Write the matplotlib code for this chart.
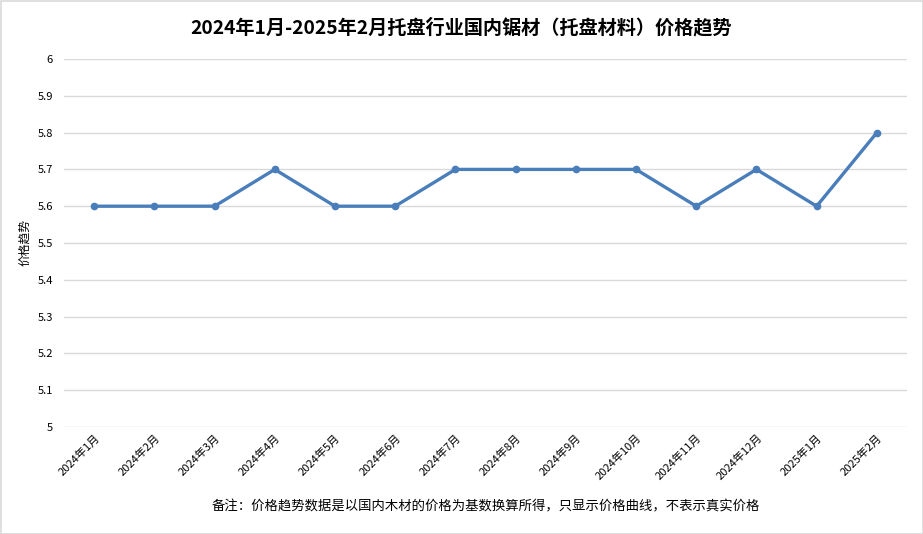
import matplotlib
matplotlib.use("Agg")
import matplotlib.pyplot as plt
from matplotlib.patches import Rectangle

plt.rcParams['font.family'] = ['Noto Sans CJK SC', 'DejaVu Sans']

categories = ["2024年1月", "2024年2月", "2024年3月", "2024年4月", "2024年5月", "2024年6月",
              "2024年7月", "2024年8月", "2024年9月", "2024年10月", "2024年11月", "2024年12月",
              "2025年1月", "2025年2月"]
values = [5.6, 5.6, 5.6, 5.7, 5.6, 5.6, 5.7, 5.7, 5.7, 5.7, 5.6, 5.7, 5.6, 5.8]
yticks = [5, 5.1, 5.2, 5.3, 5.4, 5.5, 5.6, 5.7, 5.8, 5.9, 6]

title = "2024年1月-2025年2月托盘行业国内锯材（托盘材料）价格趋势"
ylabel = "价格趋势"
note = "备注：价格趋势数据是以国内木材的价格为基数换算所得，只显示价格曲线，不表示真实价格"

fig = plt.figure(figsize=(9.23, 5.34), dpi=100)
ax = fig.add_axes([64/923, 1-427/534, 843/923, 368/534])

x = list(range(len(categories)))
ax.plot(x, values, color='#4a7ebb', linewidth=2.4, marker='o', markersize=4.5,
        markerfacecolor='#4a7ebb', markeredgecolor='#4a7ebb', zorder=3)

ax.set_xlim(-0.5, len(categories) - 0.5)
ax.set_ylim(5, 6)
ax.set_yticks(yticks)
ax.set_yticklabels([f"{v:g}" for v in yticks], fontsize=8)
ax.set_xticks(x)
ax.set_xticklabels(categories, rotation=45, ha='right', rotation_mode='anchor', fontsize=8)
ax.tick_params(axis='y', length=0, pad=8)
ax.tick_params(axis='x', length=0, pad=4)
ax.grid(axis='y', color='#d9d9d9', linewidth=1)
ax.set_axisbelow(True)
for s in ax.spines.values():
    s.set_visible(False)

fig.text(0.5, 1-28/534, title, ha='center', va='center', fontsize=13.8, fontweight='bold')
fig.text(25/923, 1-243/534, ylabel, ha='center', va='center', rotation=90, fontsize=8.5)
fig.text(486/923, 1-506/534, note, ha='center', va='center', fontsize=9.6)

fig.patches.append(Rectangle((0.5/923, 0.5/534), 1-1/923, 1-1/534, transform=fig.transFigure,
                             fill=False, edgecolor='#d9d9d9', linewidth=1.2))

fig.savefig("out.png", dpi=100)
